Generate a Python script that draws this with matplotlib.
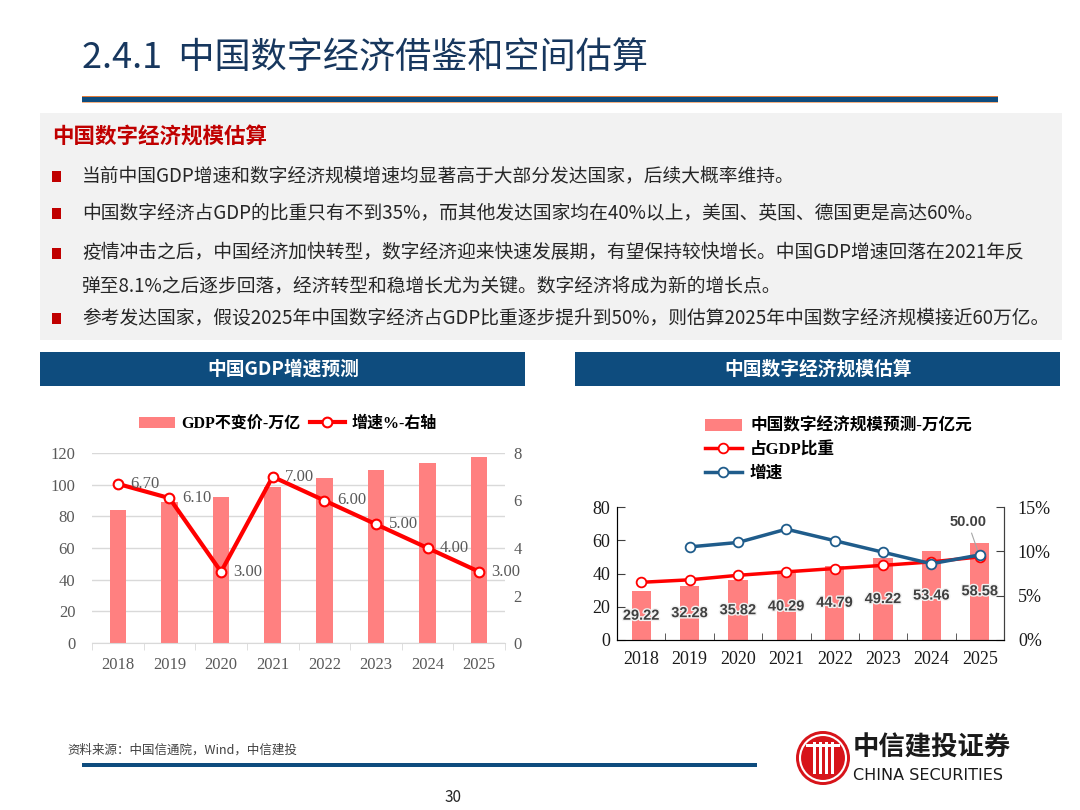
import matplotlib
matplotlib.use('Agg')
import matplotlib.pyplot as plt
from matplotlib.patches import Rectangle, Circle
from matplotlib.font_manager import FontProperties
from matplotlib.ticker import FuncFormatter, MultipleLocator
import matplotlib.patheffects as pe

plt.rcParams['font.family'] = ['Noto Sans CJK SC', 'DejaVu Sans']

# 数据
years = ['2018', '2019', '2020', '2021', '2022', '2023', '2024', '2025']
gdp = [84.2, 89.1, 92.0, 98.3, 104.2, 109.5, 113.9, 117.3]
gdp_growth = [6.70, 6.10, 3.00, 7.00, 6.00, 5.00, 4.00, 3.00]
digital = [29.22, 32.28, 35.82, 40.29, 44.79, 49.22, 53.46, 58.58]
share = [34.7, 36.2, 38.9, 41.0, 43.0, 44.9, 47.0, 50.0]
digital_growth = [None, 0.105, 0.110, 0.125, 0.112, 0.099, 0.086, 0.096]

bullets = [
    '当前中国GDP增速和数字经济规模增速均显著高于大部分发达国家，后续大概率维持。',
    '中国数字经济占GDP的比重只有不到35%，而其他发达国家均在40%以上，美国、英国、德国更是高达60%。',
    '疫情冲击之后，中国经济加快转型，数字经济迎来快速发展期，有望保持较快增长。中国GDP增速回落在2021年反\n弹至8.1%之后逐步回落，经济转型和稳增长尤为关键。数字经济将成为新的增长点。',
    '参考发达国家，假设2025年中国数字经济占GDP比重逐步提升到50%，则估算2025年中国数字经济规模接近60万亿。',
]

navy = '#0E4C7E'
pink = '#FF8080'
serif = ['Liberation Serif', 'Noto Sans CJK SC']

fig = plt.figure(figsize=(10.8, 8.1), dpi=100)

# 背景层（版式）
bg = fig.add_axes([0, 0, 1, 1])
bg.set_xlim(0, 1080)
bg.set_ylim(810, 0)
bg.axis('off')

bg.text(82, 58, '2.4.1  中国数字经济借鉴和空间估算', fontsize=26, color='#17375E',
        va='center', ha='left')
bg.add_patch(Rectangle((82, 95.5), 916, 1.5, color='#E07B39', lw=0))
bg.add_patch(Rectangle((82, 97), 916, 4.5, color=navy, lw=0))
bg.add_patch(Rectangle((82, 101.5), 916, 1.2, color='#F4B183', lw=0))

bg.add_patch(Rectangle((40, 113), 1022, 227, color='#F2F2F2', lw=0))
bg.text(52, 137, '中国数字经济规模估算', fontsize=15.5, color='#C00000',
        fontweight='bold', va='center')
for yy, txt in zip([176, 213, 253, 318], bullets):
    bg.add_patch(Rectangle((52, yy - 5.5), 9, 11, color='#C00000', lw=0))
    if '\n' in txt:
        bg.text(82, yy - 11, txt, fontsize=13.5, color='#262626', va='top', linespacing=1.75)
    else:
        bg.text(82, yy, txt, fontsize=13.5, color='#262626', va='center')

bg.add_patch(Rectangle((40, 352), 485, 34, color=navy, lw=0))
bg.add_patch(Rectangle((575, 352), 485, 34, color=navy, lw=0))
bg.text(283, 369, '中国GDP增速预测', color='white', fontsize=13.5, fontweight='bold',
        ha='center', va='center')
bg.text(818, 369, '中国数字经济规模估算', color='white', fontsize=13.5, fontweight='bold',
        ha='center', va='center')

bg.text(67, 750, '资料来源：中国信通院，Wind，中信建投', fontsize=9, color='#404040',
        va='center', style='italic')
bg.add_patch(Rectangle((82, 763), 675, 4, color=navy, lw=0))
bg.text(453, 797, '30', fontsize=11, color='#262626', ha='center', va='center')

# logo
bg.add_patch(Circle((823, 758), 27, color='#D7141A', lw=0))
bg.add_patch(Circle((823, 758), 23, fill=False, ec='white', lw=1.5))
for dx in [-9, -3, 3, 9]:
    bg.add_patch(Rectangle((823 + dx - 1.5, 742), 3, 32, color='white', lw=0))
bg.add_patch(Rectangle((806, 744), 34, 3, color='white', lw=0))
bg.text(853, 748, '中信建投证券', fontsize=19, fontweight='bold', color='#1A1A1A', va='center')
bg.text(853, 775, 'CHINA SECURITIES', fontsize=11.5, color='#1A1A1A', va='center',
        family='DejaVu Sans')

x = list(range(len(years)))

# 左图：GDP
ax1 = fig.add_axes([92 / 1080, (810 - 643) / 810, (505 - 92) / 1080, (643 - 453) / 810])
b1 = ax1.bar(x, gdp, width=0.32, color=pink, zorder=2, label='GDP不变价-万亿')
ax1.set_xlim(-0.5, 7.5)
ax1.set_ylim(0, 120)
ax1.yaxis.set_major_locator(MultipleLocator(20))
ax1.grid(axis='y', color='#D9D9D9', lw=1, zorder=0)
for s in ['top', 'left', 'right']:
    ax1.spines[s].set_visible(False)
ax1.spines['bottom'].set_color('#D9D9D9')
ax1.set_xticks(x)
ax1.set_xticklabels(years)
ax1.set_xticks([i - 0.5 for i in range(9)], minor=True)
ax1.tick_params(axis='x', which='major', length=0, pad=10)
ax1.tick_params(axis='x', which='minor', length=5, color='#D9D9D9')
ax1.tick_params(axis='y', length=0, pad=12)
for lab in ax1.get_xticklabels() + ax1.get_yticklabels():
    lab.set_fontfamily(serif)
    lab.set_fontsize(12)
    lab.set_color('#595959')

ax1r = ax1.twinx()
l1, = ax1r.plot(x, gdp_growth, color='#FF0000', lw=3, marker='o', ms=7,
                mfc='white', mec='#FF0000', mew=1.5, zorder=3, label='增速%-右轴')
ax1r.set_ylim(0, 8)
ax1r.yaxis.set_major_locator(MultipleLocator(2))
for s in ax1r.spines.values():
    s.set_visible(False)
ax1r.tick_params(axis='y', length=0, pad=6)
for lab in ax1r.get_yticklabels():
    lab.set_fontfamily(serif)
    lab.set_fontsize(12)
    lab.set_color('#595959')
for xi, v in zip(x, gdp_growth):
    ax1r.annotate(f'{v:.2f}', (xi, v), xytext=(9, 0), textcoords='offset points',
                  ha='left', va='center', fontsize=12, color='#595959', family=serif)
ax1.legend(handles=[b1, l1], ncol=2, loc='center', bbox_to_anchor=(288 / 1080, (810 - 424) / 810),
           bbox_transform=fig.transFigure, frameon=False, handlelength=2.2, columnspacing=0.6,
           handletextpad=0.4, prop=FontProperties(family=serif, weight='bold', size=11.5))

# 右图：数字经济
ax2 = fig.add_axes([617 / 1080, (810 - 640) / 810, (1004 - 617) / 1080, (640 - 507) / 810])
b2 = ax2.bar(x, digital, width=0.4, color=pink, zorder=1, label='中国数字经济规模预测-万亿元')
l2, = ax2.plot(x, share, color='#FF0000', lw=2.5, marker='o', ms=7, mfc='white',
               mec='#FF0000', mew=1.3, zorder=3, label='占GDP比重')
ax2.set_xlim(-0.5, 7.5)
ax2.set_ylim(0, 80)
ax2.yaxis.set_major_locator(MultipleLocator(20))
ax2.spines['top'].set_visible(False)
for s in ['left', 'bottom', 'right']:
    ax2.spines[s].set_color('#404040')
ax2.set_xticks(x)
ax2.set_xticklabels(years)
ax2.set_xticks([i - 0.5 for i in range(9)], minor=True)
ax2.tick_params(axis='x', which='major', length=0, pad=8)
ax2.tick_params(axis='x', which='minor', length=5, direction='in', color='#404040')
ax2.tick_params(axis='y', direction='in', length=6, color='#404040', pad=5)
for lab in ax2.get_xticklabels() + ax2.get_yticklabels():
    lab.set_fontfamily(serif)
    lab.set_fontsize(13)
    lab.set_color('#1A1A1A')
for xi, v in zip(x, digital):
    ax2.text(xi, v / 2, f'{v:.2f}', ha='center', va='center', fontsize=10.5, fontweight='bold',
             color='#404040', family='Liberation Sans', zorder=5,
             path_effects=[pe.withStroke(linewidth=2, foreground='#F2F2F2')])
ax2.annotate(f'{share[-1]:.2f}', (x[-1], share[-1]), xytext=(x[-1] - 0.25, 71),
             textcoords='data', ha='center', va='center', fontsize=10.5, fontweight='bold',
             color='#404040', family='Liberation Sans', zorder=6,
             arrowprops=dict(arrowstyle='-', color='#A6A6A6', lw=0.8, shrinkA=1, shrinkB=2),
             annotation_clip=False)

ax2r = ax2.twinx()
gx = [xi for xi, g in zip(x, digital_growth) if g is not None]
gy = [g for g in digital_growth if g is not None]
l3, = ax2r.plot(gx, gy, color='#1F5C8B', lw=2.5, marker='o', ms=7, mfc='white',
                mec='#1F5C8B', mew=1.3, zorder=3, label='增速')
ax2r.set_ylim(0, 0.15)
ax2r.yaxis.set_major_locator(MultipleLocator(0.05))
ax2r.yaxis.set_major_formatter(FuncFormatter(lambda v, p: f'{v * 100:.0f}%'))
ax2r.spines['top'].set_visible(False)
ax2r.spines['right'].set_color('#404040')
ax2r.tick_params(axis='y', direction='in', length=6, color='#404040', pad=10)
for lab in ax2r.get_yticklabels():
    lab.set_fontfamily(serif)
    lab.set_fontsize(13)
    lab.set_color('#1A1A1A')
ax2.legend(handles=[b2, l2, l3], loc='center left', bbox_to_anchor=(690 / 1080, (810 - 450) / 810),
           bbox_transform=fig.transFigure, frameon=False, handlelength=2.2, labelspacing=0.45,
           handletextpad=0.5, prop=FontProperties(family=serif, weight='bold', size=12))

fig.savefig('out.png', dpi=100)
